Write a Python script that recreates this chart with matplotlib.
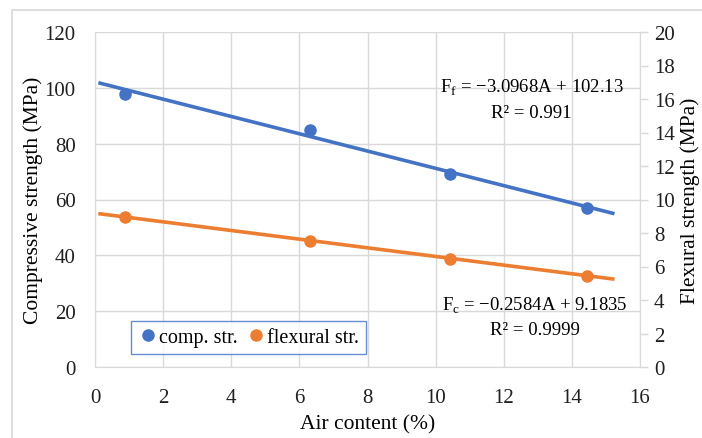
import numpy as np
import matplotlib.pyplot as plt
from matplotlib.patches import Rectangle

plt.rcParams['font.family'] = ['Liberation Serif', 'DejaVu Serif']

# Messwerte
air = [0.88, 6.31, 10.43, 14.44]
comp = [97.8, 84.9, 69.1, 56.9]
flex = [8.96, 7.52, 6.45, 5.45]

# Trendlinien (Koeffizienten aus dem Diagramm)
comp_fit = [-3.0968, 102.13]
flex_fit = [-0.2584, 9.1835]
fit_range = [0.15, 15.2]

blue = '#4472C4'
orange = '#ED7D31'
grid = '#D9D9D9'

fig = plt.figure(figsize=(7.02, 4.39), dpi=100)
W, H = 702, 439
ax = fig.add_axes([95 / W, 1 - 368 / H, (640 - 95) / W, (368 - 33) / H])
ax2 = ax.twinx()

# Rahmen um das Diagramm
fig.patches.append(Rectangle((12 / W, -0.1), 1.0, 1 - 11 / H + 0.1,
                             transform=fig.transFigure, fill=False,
                             edgecolor='#D9D9D9', lw=1.2))

xs = np.array(fit_range)
ax.plot(xs, comp_fit[0] * xs + comp_fit[1], color=blue, lw=2.6, zorder=3)
ax.plot(air, comp, 'o', color=blue, ms=8, zorder=4, label='comp. str.')
ax2.plot(xs, flex_fit[0] * xs + flex_fit[1], color=orange, lw=2.6, zorder=3)
ax2.plot(air, flex, 'o', color=orange, ms=8, zorder=4, label='flexural str.')

ax.set_xlim(0, 16)
ax.set_ylim(0, 120)
ax2.set_ylim(0, 20)
ax.set_xticks(range(0, 17, 2))
ax.set_yticks(range(0, 121, 20))
ax2.set_yticks(range(0, 21, 2))
ax.grid(True, color=grid, lw=1)
ax.set_axisbelow(True)

for a in (ax, ax2):
    for s in a.spines.values():
        s.set_visible(False)
ax.spines['left'].set_visible(True)
ax.spines['left'].set_color(grid)
ax.spines['bottom'].set_visible(True)
ax.spines['bottom'].set_color(grid)
ax2.spines['right'].set_visible(True)
ax2.spines['right'].set_color(grid)

ax.tick_params(axis='y', length=0, labelsize=15, colors='#202020', pad=14)
ax.tick_params(axis='x', length=0, labelsize=15, colors='#202020', pad=15)
ax2.tick_params(axis='y', length=6, width=1, color=grid, labelsize=15,
                labelcolor='#202020', pad=4)

ax.set_xlabel('Air content (%)', fontsize=15.5, labelpad=5)
ax.set_ylabel('Compressive strength (MPa)', fontsize=15.5, labelpad=1)
ax2.set_ylabel('Flexural strength (MPa)', fontsize=15.5, labelpad=4)

ax.text(12.82, 100.3, r'F$_\mathregular{f}$ = −3.0968A + 102.13', ha='center',
        va='center', fontsize=13.5)
ax.text(12.82, 91.3, 'R² = 0.991', ha='center', va='center', fontsize=13.5)
ax.text(12.92, 22.2, r'F$_\mathregular{c}$ = −0.2584A + 9.1835', ha='center',
        va='center', fontsize=13.5)
ax.text(12.92, 13.3, 'R² = 0.9999', ha='center', va='center', fontsize=13.5)

h1, l1 = ax.get_legend_handles_labels()
h2, l2 = ax2.get_legend_handles_labels()
leg = ax.legend(h1 + h2, l1 + l2, loc='lower left',
                bbox_to_anchor=(36 / 545, 13 / 335), ncol=2, fontsize=14.5,
                frameon=True, fancybox=False, handletextpad=0.05,
                columnspacing=0.4, handlelength=1.0, borderpad=0.35,
                borderaxespad=0)
leg.get_frame().set_edgecolor(blue)
leg.get_frame().set_linewidth(1)

fig.savefig('out.png', dpi=100)
